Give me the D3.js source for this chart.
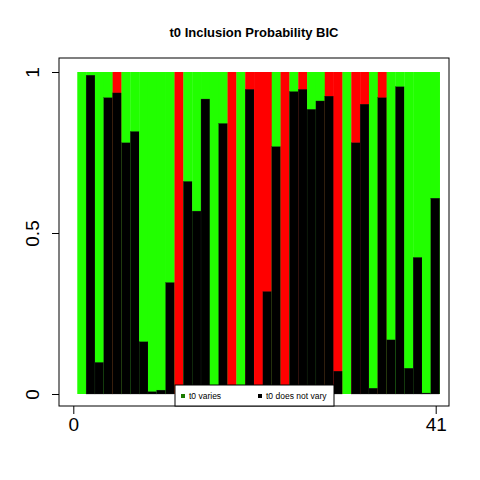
<!DOCTYPE html>
<html><head><meta charset="utf-8">
<script src="https://cdn.jsdelivr.net/npm/d3@7"></script>
<style>body{margin:0;background:#fff}</style>
</head><body>
<svg id="chart" width="480" height="480"></svg>
<script>
// probability that t0 does not vary (black part), per model
const notVary = [0, 0.99, 0.098, 0.92, 0.935, 0.78, 0.815, 0.162, 0.007, 0.012, 0.346,
  0, 0.66, 0.568, 0.916, 0, 0.84, 0, 0, 0.946, 0, 0.318, 0.768, 0, 0.939, 0.946,
  0.884, 0.91, 0.925, 0.071, 0, 0.78, 0.9, 0.018, 0.92, 0.168, 0.954, 0.08, 0.424, 0.003, 0.608];
// top colour of each bar: g = green, r = red
const topColour = ["g","g","g","g","r","g","g","g","g","g","g","r","g","g","g","g","g","r","g","r",
  "r","r","g","r","g","r","g","g","r","r","g","r","r","g","r","g","g","g","g","g","g"];
const xTicks = [0, 41];
const yTicks = [0, 0.5, 1];
const legendLabels = ["t0 varies", "t0 does not vary"];

const svg = d3.select("#chart");
const x = d3.scaleLinear().domain([0, 41]).range([73.3, 435.7]);
const y = d3.scaleLinear().domain([0, 1]).range([394, 72]);
const colours = {g: "#22ff00", r: "#ff0000"};

// bars: full-height coloured top, black bottom
notVary.forEach((v, i) => {
  const x0 = x(i + 0.45), w = x(i + 1.45) - x0;
  svg.append("rect").attr("x", x0).attr("y", y(1)).attr("width", w + 0.3)
    .attr("height", y(0) - y(1)).attr("fill", colours[topColour[i]]);
  svg.append("rect").attr("x", x0).attr("y", y(v)).attr("width", w)
    .attr("height", y(0) - y(v)).attr("fill", "#000")
    .attr("stroke", "#222").attr("stroke-width", 0.3);
});

// box
svg.append("rect").attr("x", 59).attr("y", 58).attr("width", 390).attr("height", 348)
  .attr("fill", "none").attr("stroke", "#000").attr("stroke-width", 1);

// axes
svg.append("g").attr("transform", "translate(0,406)")
  .call(d3.axisBottom(x).tickValues(xTicks).tickFormat(d3.format("d")).tickSize(8).tickPadding(4))
  .call(g => g.select(".domain").remove())
  .call(g => g.selectAll("text").attr("font-size", 19).attr("font-family", "Liberation Sans, Arial").attr("fill", "#000"));

const ya = svg.append("g").attr("transform", "translate(59,0)")
  .call(d3.axisLeft(y).tickValues(yTicks).tickFormat(d => d === 0.5 ? "0.5" : d3.format("d")(d)).tickSize(7))
  .call(g => g.select(".domain").remove());
ya.selectAll("text").attr("font-size", 19).attr("font-family", "Liberation Sans, Arial").attr("fill", "#000")
  .attr("text-anchor", "middle").attr("x", 0).attr("dy", 0)
  .attr("transform", "translate(-20,0) rotate(-90)");

// legend
const lg = svg.append("g");
lg.append("rect").attr("x", 175).attr("y", 385).attr("width", 159).attr("height", 21)
  .attr("fill", "#fff").attr("stroke", "#000").attr("stroke-width", 1);
[[181, "#22aa00"], [258, "#000"]].forEach((p, i) => {
  lg.append("rect").attr("x", p[0]).attr("y", 394).attr("width", 4).attr("height", 4).attr("fill", i ? "#000" : "#1a7a00");
  lg.append("text").attr("x", p[0] + 8).attr("y", 399).attr("font-size", 8.5)
    .attr("font-family", "Liberation Sans, Arial").text(legendLabels[i]);
});

svg.append("text").attr("x", 254).attr("y", 37).attr("text-anchor", "middle")
  .attr("font-size", 13).attr("font-weight", "bold").attr("font-family", "Liberation Sans, Arial")
  .text("t0 Inclusion Probability BIC");
</script>
</body></html>
